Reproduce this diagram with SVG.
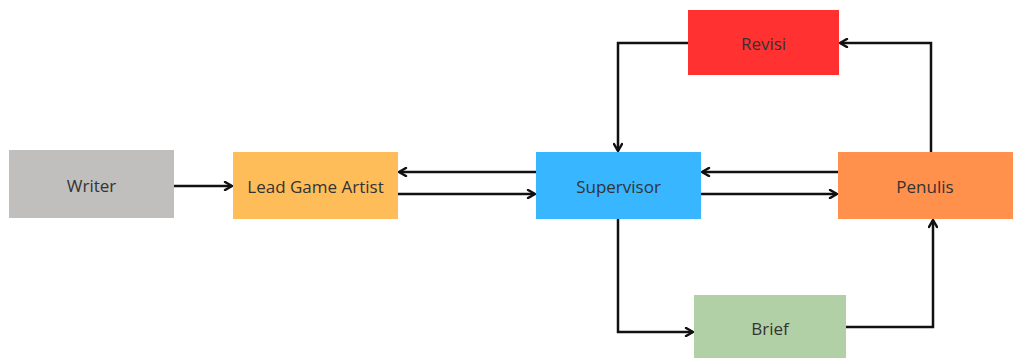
<svg xmlns="http://www.w3.org/2000/svg" width="1013" height="358" viewBox="0 0 1013 358">
  <style>
    .box text { font-family: "Open Sans", "Noto Sans", sans-serif; font-size: 17px; fill: #333333; text-anchor: middle; dominant-baseline: central; }
    .conn path { fill: none; stroke: #111111; stroke-width: 2.5; marker-end: url(#chev); }
  </style>
  <defs>
    <marker id="chev" viewBox="0 0 10 10" refX="9" refY="5" markerWidth="10" markerHeight="10" markerUnits="userSpaceOnUse" orient="auto">
      <path d="M2,1 L9,5 L2,9" fill="none" stroke="#111111" stroke-width="2.5" stroke-linecap="round" stroke-linejoin="round"/>
    </marker>
  </defs>
  <rect width="1013" height="358" fill="#ffffff"/>

  <g class="conn">
    <path d="M174,186 L232,186"/>
    <path d="M536,172 L399,172"/>
    <path d="M398,194 L535,194"/>
    <path d="M838,172 L702,172"/>
    <path d="M701,194 L837,194"/>
    <path d="M688,43 L618,43 L618,151"/>
    <path d="M931,152 L931,43 L840,43"/>
    <path d="M618,219 L618,332 L693,332"/>
    <path d="M846,327 L933,327 L933,220"/>
  </g>

  <g id="writer" class="box">
    <rect x="9" y="150" width="165" height="68" fill="#c0bfbe"/>
    <text x="91.5" y="185">Writer</text>
  </g>
  <g id="lead-game-artist" class="box">
    <rect x="233" y="152" width="165" height="67" fill="#ffbd59"/>
    <text x="315.5" y="186">Lead Game Artist</text>
  </g>
  <g id="supervisor" class="box">
    <rect x="536" y="152" width="165" height="67" fill="#38b6ff"/>
    <text x="618.5" y="186">Supervisor</text>
  </g>
  <g id="penulis" class="box">
    <rect x="838" y="152" width="176" height="67" fill="#ff914d"/>
    <text x="925" y="186">Penulis</text>
  </g>
  <g id="revisi" class="box">
    <rect x="688" y="10" width="151" height="65" fill="#ff3131"/>
    <text x="763.5" y="43">Revisi</text>
  </g>
  <g id="brief" class="box">
    <rect x="694" y="295" width="152" height="64" fill="#b2d0a5"/>
    <text x="770" y="328">Brief</text>
  </g>
</svg>
